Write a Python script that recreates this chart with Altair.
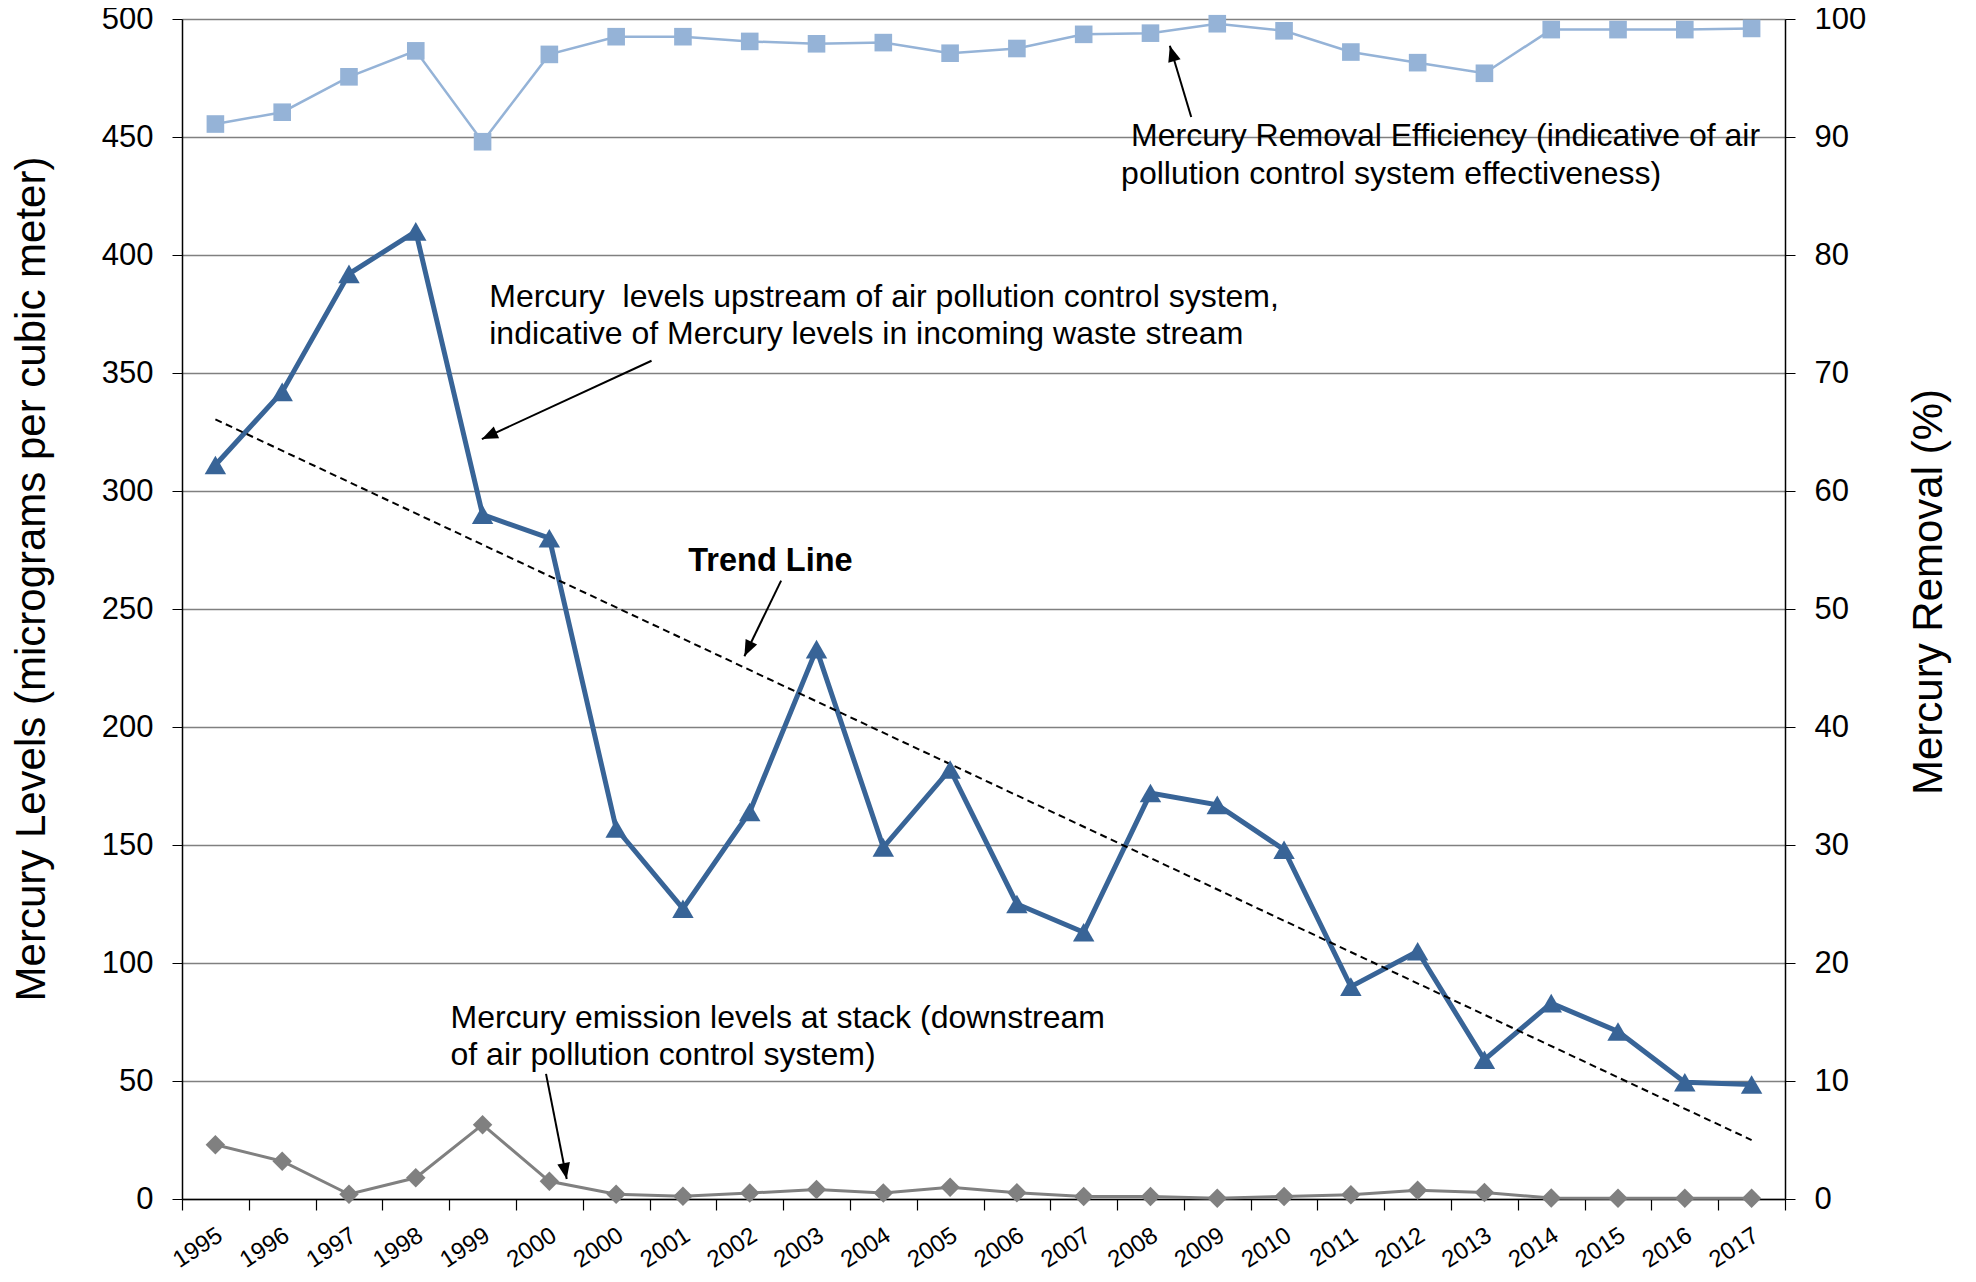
import math
import altair as alt
import pandas as pd

# ---------------- data ----------------
years = ["1995", "1996", "1997", "1998", "1999", "2000", "2000", "2001", "2002",
         "2003", "2004", "2005", "2006", "2007", "2008", "2009", "2010", "2011",
         "2012", "2013", "2014", "2015", "2016", "2017"]
upstream = [311, 342, 392, 410, 290, 280, 157, 123, 164, 233, 149, 182,
            125, 113, 172, 167, 148, 90, 105, 59, 83, 71, 49.5, 48.5]
removal = [91.1, 92.1, 95.1, 97.3, 89.6, 97.0, 98.5, 98.5, 98.1, 97.9, 98.0, 97.1,
           97.5, 98.7, 98.8, 99.6, 99.0, 97.2, 96.3, 95.4, 99.1, 99.1, 99.1, 99.2]
stack = [23, 16, 2, 9, 31.5, 7.5, 2, 1.2, 2.5, 4, 2.5, 5,
         2.6, 1.1, 1.1, 0.3, 1.1, 1.8, 3.7, 2.8, 0.4, 0.3, 0.3, 0.3]

left_ticks = [0, 50, 100, 150, 200, 250, 300, 350, 400, 450, 500]
right_ticks = [0, 10, 20, 30, 40, 50, 60, 70, 80, 90, 100]

# annotations (x in category index, y in left-axis units)
ann_text = ["Mercury Removal Efficiency (indicative of air",
            "pollution control system effectiveness)",
            "Mercury\u00a0 levels upstream of air pollution control system,",
            "indicative of Mercury levels in incoming waste stream",
            "Trend Line",
            "Mercury emission levels at stack (downstream",
            "of air pollution control system)"]
ann_x = [13.71, 13.56, 4.10, 4.10, 7.08, 3.52, 3.52]
ann_y = [446.2, 430.1, 378.0, 362.3, 266.1, 72.5, 56.8]
ann_bold = [False, False, False, False, True, False, False]

arrow_x1 = [14.61, 6.53, 8.47, 4.95]
arrow_y1 = [458.5, 355.2, 262.0, 53.0]
arrow_x2 = [14.29, 3.99, 7.92, 5.26]
arrow_y2 = [488.7, 322.0, 230.0, 8.5]

# ---------------- layout ----------------
W, H = 1603, 1180
FONT = "Liberation Sans"
N = len(years)

df = pd.DataFrame({"idx": list(range(N)), "year": years, "upstream": upstream,
                   "removal": removal, "stack": stack})
ann_df = pd.DataFrame({"x": ann_x, "y": ann_y, "text": ann_text, "bold": ann_bold})

angles = []
for x1, y1, x2, y2 in zip(arrow_x1, arrow_y1, arrow_x2, arrow_y2):
    dx = (x2 - x1) * W / N
    dy = -(y2 - y1) * H / 500.0
    angles.append(math.degrees(math.atan2(dx, -dy)) % 360)
arr_df = pd.DataFrame({"x1": arrow_x1, "y1": arrow_y1, "x2": arrow_x2,
                       "y2": arrow_y2, "angle": angles})

years_js = "[" + ",".join("'%s'" % y for y in years) + "]"
x_scale = alt.Scale(domain=[-0.5, N - 0.5], nice=False, zero=False)
x_axis = alt.Axis(values=[i - 0.5 for i in range(N + 1)],
                  labelExpr=years_js + "[datum.value + 0.5] || ''",
                  labelOffset=W / N / 2 - 2, labelAngle=-33, labelAlign="right",
                  labelBaseline="top", labelFontSize=24, labelPadding=13,
                  tickSize=11, tickColor="black", tickWidth=1.2,
                  domainColor="black", domainWidth=1.5, grid=False, title=None,
                  labelOverlap=False, labelFlush=False, labelBound=False)

yl_scale = alt.Scale(domain=[0, 500], nice=False)
yl_axis = alt.Axis(values=left_ticks, title="Mercury Levels (micrograms per cubic meter)",
                   titleFontSize=42, titleFontWeight="normal", titleAngle=270,
                   titleBaseline="middle", titleAlign="center", titleX=-151, titleY=559.5,
                   labelFontSize=31, labelPadding=19, tickSize=10, tickColor="black",
                   grid=True, gridColor="#808080", gridWidth=1.3,
                   domainColor="black", domainWidth=1.5)
yr_scale = alt.Scale(domain=[0, 100], nice=False)
yr_axis = alt.Axis(orient="right", values=right_ticks, title="Mercury Removal (%)",
                   titleFontSize=42, titleFontWeight="normal", titleAngle=270,
                   titleBaseline="middle", titleAlign="center", titleX=143, titleY=572.5,
                   labelFontSize=31, labelPadding=19, tickSize=10, tickColor="black",
                   grid=False, domainColor="black", domainWidth=1.5)

X = alt.X("idx:Q", scale=x_scale, axis=x_axis)
base = alt.Chart(df)

DARK = "#386497"
LIGHT = "#95B3D7"
GRAY = "#808080"

up_line = base.mark_line(color=DARK, strokeWidth=5).encode(
    x=X, y=alt.Y("upstream:Q", scale=yl_scale, axis=yl_axis))
up_pts = base.mark_point(shape="triangle-up", filled=True, size=460, opacity=1,
                         color=DARK).encode(
    x=X, y=alt.Y("upstream:Q", scale=yl_scale, axis=yl_axis))
st_line = base.mark_line(color=GRAY, strokeWidth=3).encode(
    x=X, y=alt.Y("stack:Q", scale=yl_scale, axis=yl_axis))
st_pts = base.mark_point(shape="diamond", filled=True, size=380, opacity=1,
                         color=GRAY).encode(
    x=X, y=alt.Y("stack:Q", scale=yl_scale, axis=yl_axis))
trend = base.transform_regression("idx", "upstream").mark_line(
    color="black", strokeWidth=2, strokeDash=[7, 4.5]).encode(
    x=X, y=alt.Y("upstream:Q", scale=yl_scale, axis=yl_axis))

ann = alt.Chart(ann_df)
txt_norm = ann.transform_filter("!datum.bold").mark_text(
    align="left", baseline="alphabetic", fontSize=32, font=FONT, color="black").encode(
    x=alt.X("x:Q", scale=x_scale, axis=x_axis),
    y=alt.Y("y:Q", scale=yl_scale, axis=yl_axis), text="text:N")
txt_bold = ann.transform_filter("datum.bold").mark_text(
    align="left", baseline="alphabetic", fontSize=32.5, font=FONT, fontWeight="bold",
    color="black").encode(
    x=alt.X("x:Q", scale=x_scale, axis=x_axis),
    y=alt.Y("y:Q", scale=yl_scale, axis=yl_axis), text="text:N")

arr = alt.Chart(arr_df)
arr_lines = arr.mark_rule(color="black", strokeWidth=2).encode(
    x=alt.X("x1:Q", scale=x_scale, axis=x_axis),
    y=alt.Y("y1:Q", scale=yl_scale, axis=yl_axis),
    x2="x2:Q", y2="y2:Q")
arr_heads = arr.mark_point(shape="M0,0L0.4,1L-0.4,1Z", filled=True, size=1024,
                           opacity=1, color="black").encode(
    x=alt.X("x2:Q", scale=x_scale, axis=x_axis),
    y=alt.Y("y2:Q", scale=yl_scale, axis=yl_axis),
    angle=alt.Angle("angle:Q", scale=None))

left = alt.layer(up_line, st_line, trend, up_pts, st_pts,
                 arr_lines, arr_heads, txt_norm, txt_bold)

rm_line = base.mark_line(color=LIGHT, strokeWidth=2.5).encode(
    x=X, y=alt.Y("removal:Q", scale=yr_scale, axis=yr_axis))
rm_pts = base.mark_point(shape="square", filled=True, size=310, opacity=1,
                         color=LIGHT).encode(
    x=X, y=alt.Y("removal:Q", scale=yr_scale, axis=yr_axis))
right = alt.layer(rm_line, rm_pts)

chart = alt.layer(left, right).resolve_scale(y="independent").properties(
    width=W, height=H,
    padding={"left": 174, "top": 11, "right": 180, "bottom": 71},
    autosize=alt.AutoSizeParams(type="none"),
).configure_view(stroke=None).configure_axis(
    labelFont=FONT, titleFont=FONT, labelColor="black", titleColor="black"
).configure(background="white")

chart.save("out.html", embed_options={"renderer": "svg", "actions": False})
